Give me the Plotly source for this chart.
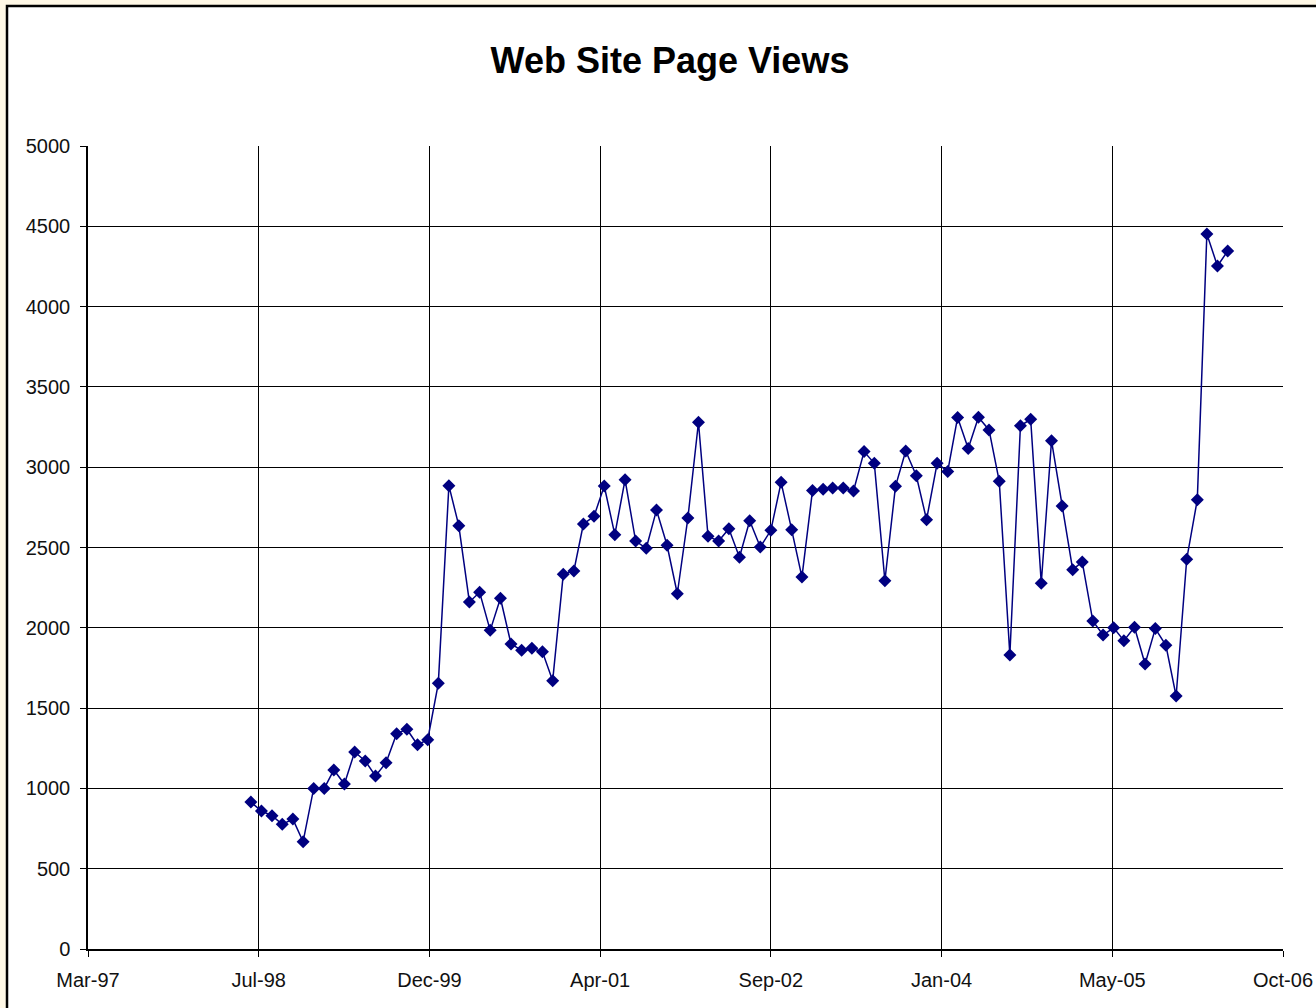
import pandas as pd
import plotly.graph_objects as go

# Monthly page views, Jul 1998 - May 2006
start_month = "1998-07-01"
page_views = [
    915, 859, 830, 776, 809, 668, 1000, 1000, 1115, 1027, 1227, 1171,
    1077, 1160, 1341, 1368, 1272, 1303, 1654, 2885, 2636, 2161, 2221, 1984,
    2184, 1899, 1860, 1872, 1851, 1671, 2333, 2354, 2646, 2694, 2883, 2580,
    2922, 2540, 2495, 2733, 2514, 2212, 2684, 3280, 2570, 2540, 2617, 2439,
    2667, 2503, 2607, 2906, 2610, 2316, 2855, 2862, 2870, 2870, 2852, 3097,
    3024, 2293, 2881, 3101, 2947, 2673, 3024, 2974, 3310, 3117, 3311, 3232,
    2912, 1831, 3258, 3298, 2277, 3165, 2758, 2362, 2410, 2042, 1955, 2000,
    1920, 2003, 1775, 1995, 1891, 1575, 2427, 2798, 4452, 4253, 4346,
]
months = pd.date_range(start_month, periods=len(page_views), freq="MS")

# Excel-style date axis: every 500 days from serial 35500
x_tick_dates = ["1997-03-11", "1998-07-24", "1999-12-06", "2001-04-19",
                "2002-09-01", "2004-01-14", "2005-05-28", "2006-10-10"]
x_tick_labels = ["Mar-97", "Jul-98", "Dec-99", "Apr-01",
                 "Sep-02", "Jan-04", "May-05", "Oct-06"]
y_ticks = list(range(0, 5001, 500))

title_text = "Web Site Page Views"

NAVY = "#000080"
FONT = "Liberation Sans, Arial, sans-serif"

fig = go.Figure()
fig.add_trace(go.Scatter(
    x=months, y=page_views, mode="lines+markers",
    line=dict(color=NAVY, width=1.5),
    marker=dict(symbol="diamond", size=10, color=NAVY),
    showlegend=False,
))

W, H = 1316, 1008
L, R, T, B = 88, 33, 146, 59
pw, ph = W - L - R, H - T - B

def px_x(p):
    return (p - L) / pw

def px_y(p):
    return (H - B - p) / ph

fig.add_shape(type="rect", xref="paper", yref="paper",
              x0=px_x(7), x1=px_x(W + 10), y0=px_y(H + 10), y1=px_y(6),
              fillcolor="white", line=dict(color="black", width=2.5),
              layer="below")

fig.update_layout(
    width=W, height=H,
    margin=dict(l=L, r=R, t=T, b=B, autoexpand=False),
    paper_bgcolor="#FFF8E6",
    plot_bgcolor="white",
    title=dict(text=f"<b>{title_text}</b>", xref="container", x=670 / W,
               xanchor="center", y=1 - 60 / H, yanchor="middle",
               font=dict(family=FONT, size=36, color="black")),
    font=dict(family=FONT, size=20, color="#111111"),
    xaxis=dict(
        range=[x_tick_dates[0], x_tick_dates[-1]],
        tickmode="array", tickvals=x_tick_dates, ticktext=x_tick_labels,
        showgrid=True, gridcolor="black", gridwidth=1,
        showline=True, linecolor="black", linewidth=1.5,
        ticks="outside", ticklen=6, tickcolor="black",
        ticklabelstandoff=6, automargin=False,
        zeroline=False,
    ),
    yaxis=dict(
        range=[0, 5000], tickvals=y_ticks,
        showgrid=True, gridcolor="black", gridwidth=1,
        showline=True, linecolor="black", linewidth=1.5,
        ticks="outside", ticklen=6, tickcolor="black",
        ticklabelstandoff=6, automargin=False,
        zeroline=False,
    ),
)

fig.write_html(
    "out.html",
    config={"displayModeBar": False},
    post_script="document.body.style.margin='0';document.body.style.overflow='hidden';",
)
